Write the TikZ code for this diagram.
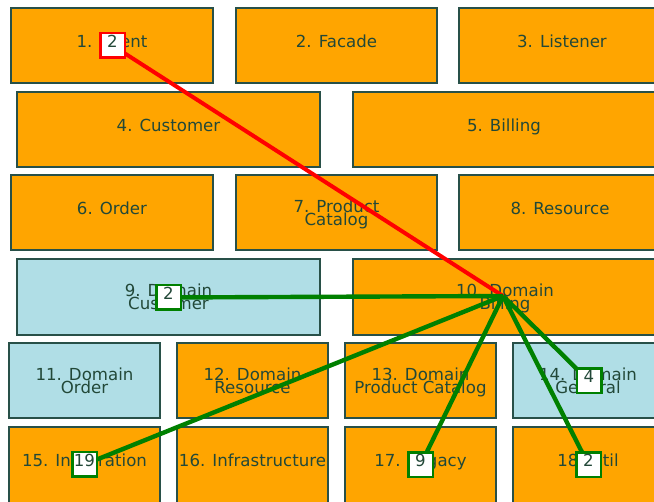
\documentclass[tikz,border=0pt]{standalone}
\usepackage{fontspec}
\setmainfont{DejaVu Sans}
\pgfdeclarelayer{edges}
\pgfdeclarelayer{tags}
\pgfsetlayers{main,edges,tags}
\definecolor{boxorange}{RGB}{255,165,0}
\definecolor{boxblue}{RGB}{176,222,230}
\definecolor{ink}{RGB}{34,72,56}
\definecolor{frame}{RGB}{40,80,72}
\definecolor{redlink}{RGB}{255,0,0}
\definecolor{greenlink}{RGB}{0,128,0}
\tikzset{
  pkg/.style={draw=frame, line width=1.2pt, text=ink, inner sep=0pt,
    font=\fontsize{16.6}{13}\selectfont, text height=12pt, text depth=8pt},
  pkgtwo/.style={pkg, align=center, text height=, text depth=0pt},
  orangebox/.style={pkg, fill=boxorange},
  bluebox/.style={pkg, fill=boxblue},
  orangetwo/.style={pkgtwo, fill=boxorange},
  bluetwo/.style={pkgtwo, fill=boxblue},
  tag/.style={draw=#1, fill=white, line width=2.5pt, minimum size=24.5pt,
    inner sep=0pt, text=ink, font=\fontsize{16.6}{13}\selectfont,
    text height=12pt, text depth=8pt},
  link/.style={draw=#1, line width=4.4pt}
}
\begin{document}
\begin{tikzpicture}[x=1pt, y=-1pt]
\clip (0,0) rectangle (654,502);
\fill[white] (0,0) rectangle (654,502);

% row 1
\node[orangebox, minimum width=202, minimum height=75] (b1) at (112,45.5) {1. Client};
\node[orangebox, minimum width=201, minimum height=75] (b2) at (336.5,45.5) {2. Facade};
\node[orangebox, minimum width=206, minimum height=75] (b3) at (562,45.5) {3. Listener};
% row 2
\node[orangebox, minimum width=303, minimum height=75] (b4) at (168.5,129.5) {4. Customer};
\node[orangebox, minimum width=302, minimum height=75] (b5) at (504,129.5) {5. Billing};
% row 3
\node[orangebox, minimum width=202, minimum height=75] (b6) at (112,212.5) {6. Order};
\node[orangetwo, minimum width=201, minimum height=75] (b7) at (336.5,212.5) {7. Product\\Catalog};
\node[orangebox, minimum width=202, minimum height=75] (b8) at (560,212.5) {8. Resource};
% row 4
\node[bluetwo, minimum width=303, minimum height=76] (b9) at (168.5,297) {9. Domain\\Customer};
\node[orangetwo, minimum width=304, minimum height=76] (b10) at (505,297) {10. Domain\\Billing};
% row 5
\node[bluetwo, minimum width=151, minimum height=75] (b11) at (84.5,380.5) {11. Domain\\Order};
\node[orangetwo, minimum width=151, minimum height=75] (b12) at (252.5,380.5) {12. Domain\\Resource};
\node[orangetwo, minimum width=151, minimum height=75] (b13) at (420.5,380.5) {13. Domain\\Product Catalog};
\node[bluetwo, minimum width=150, minimum height=75] (b14) at (588,380.5) {14. Domain\\General};
% row 6
\node[orangebox, minimum width=151, minimum height=76] (b15) at (84.5,465) {15. Integration};
\node[orangebox, minimum width=151, minimum height=76] (b16) at (252.5,465) {16. Infrastructure};
\node[orangebox, minimum width=151, minimum height=76] (b17) at (420.5,465) {17. Legacy};
\node[orangebox, minimum width=150, minimum height=76] (b18) at (588,465) {18. Util};

% dependency counters
\coordinate (hub) at (503,296);
\begin{pgfonlayer}{tags}
\node[tag=redlink] (t1) at (112.5,45.5) {2};
\node[tag=greenlink] (t9) at (168.5,297.5) {2};
\node[tag=greenlink] (t14) at (589,381) {4};
\node[tag=greenlink] (t15) at (84.5,464.5) {19};
\node[tag=greenlink] (t17) at (420.5,465) {9};
\node[tag=greenlink] (t18) at (588.5,465) {2};
\end{pgfonlayer}

\begin{pgfonlayer}{edges}
\draw[link=redlink, line width=4pt] (t1.center) -- (hub);
\draw[link=greenlink] (t9.center) -- (hub);
\draw[link=greenlink] (t15.center) -- (hub);
\draw[link=greenlink] (t17.center) -- (hub);
\draw[link=greenlink] (t14.center) -- (hub);
\draw[link=greenlink] (t18.center) -- (hub);
\end{pgfonlayer}
\end{tikzpicture}
\end{document}
